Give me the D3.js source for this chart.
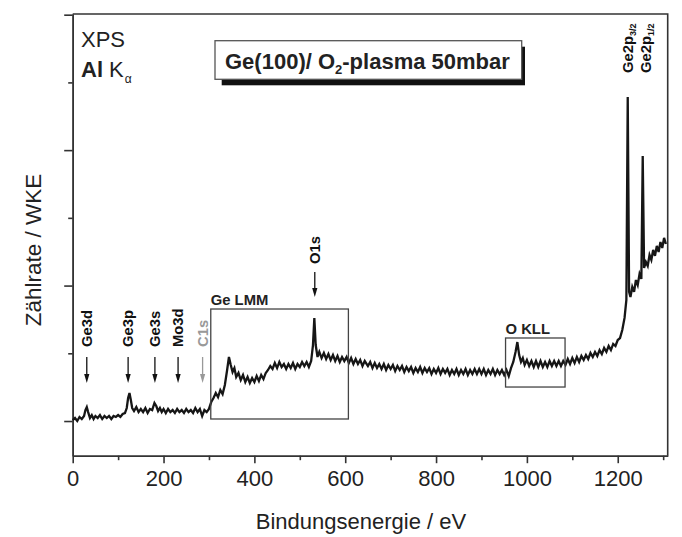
<!DOCTYPE html>
<html>
<head>
<meta charset="utf-8">
<script src="https://cdn.jsdelivr.net/npm/d3@7"></script>
<style>
  body { margin: 0; background: #fff; }
  svg { display: block; font-family: "Liberation Sans", Arial, sans-serif; }
  .axis path, .axis line { stroke: #333; stroke-width: 1.6; }
  .axis text { font-size: 22px; fill: #222; font-family: "Liberation Sans", Arial, sans-serif; }
</style>
</head>
<body>
<svg width="682" height="537"></svg>
<script>
// binding energy (eV) and counts (arb. units, 100 per major y tick)
const energy = [
  0, 5, 10, 15, 20, 25, 28, 31, 34, 38, 42, 46, 50, 55, 60, 65, 70, 75, 80, 85,
  90, 95, 100, 105, 110, 115, 119, 122, 125, 128, 131, 135, 140, 145, 150, 155, 160, 165, 170, 175,
  180, 184, 188, 192, 196, 200, 205, 210, 215, 220, 225, 230, 235, 240, 245, 250, 255, 260, 265, 270,
  275, 280, 285, 290, 295, 300, 305, 310, 315, 320, 325, 330, 335, 340, 344, 348, 352, 356, 360, 365,
  370, 375, 380, 385, 390, 395, 400, 405, 410, 415, 420, 425, 430, 435, 440, 445, 450, 455, 460, 465,
  470, 475, 480, 485, 490, 495, 500, 505, 510, 515, 520, 525, 529, 532, 535, 539, 543, 548, 553, 558,
  563, 568, 573, 578, 583, 588, 593, 598, 603, 608, 613, 618, 623, 628, 633, 638, 643, 650, 655, 660,
  665, 670, 675, 680, 685, 690, 695, 700, 705, 710, 715, 720, 725, 730, 735, 740, 745, 750, 755, 760,
  765, 770, 775, 780, 785, 790, 795, 800, 805, 810, 815, 820, 825, 830, 835, 840, 845, 850, 855, 860,
  865, 870, 875, 880, 885, 890, 895, 900, 905, 910, 915, 920, 925, 930, 935, 940, 945, 950, 955, 960,
  965, 970, 975, 979, 983, 987, 991, 995, 1000, 1005, 1010, 1015, 1020, 1025, 1030, 1035, 1040, 1045, 1050, 1055,
  1060, 1065, 1070, 1075, 1080, 1085, 1090, 1095, 1100, 1105, 1110, 1115, 1120, 1125, 1130, 1135, 1140, 1145, 1150, 1155,
  1160, 1165, 1170, 1175, 1180, 1185, 1190, 1195, 1200, 1205, 1210, 1215, 1219, 1222, 1225, 1228, 1232, 1236, 1240, 1244,
  1248, 1252, 1255, 1258, 1262, 1266, 1270, 1274, 1278, 1282, 1286, 1290, 1294, 1298, 1302, 1306
];
const counts = [
  0.7, 2.2, 0, 3.0, 1.5, 3.7, 8.1, 10.3, 6.6, 2.2, 4.4, 1.5, 3.7, 2.2, 4.4, 1.5, 3.7, 2.2, 3.7, 1.5,
  3.7, 3.0, 4.4, 3.0, 5.2, 5.9, 9.6, 17.0, 20.7, 15.5, 9.6, 7.4, 10.3, 6.6, 8.9, 6.6, 9.6, 5.9, 8.9, 8.1,
  13.3, 11.1, 7.4, 9.6, 6.6, 8.9, 5.9, 8.9, 6.6, 8.1, 5.9, 8.9, 6.6, 8.1, 5.9, 8.9, 6.6, 8.1, 5.9, 9.6,
  6.6, 8.9, 3.7, 8.1, 6.6, 8.9, 14.0, 17.0, 20.7, 17.7, 22.9, 19.9, 26.6, 37.7, 47.3, 41.4, 36.2, 39.1, 32.5, 35.5,
  30.3, 34.0, 28.8, 32.5, 28.1, 31.8, 28.8, 33.2, 29.5, 34.0, 31.0, 35.5, 37.7, 40.6, 38.4, 42.8, 39.1, 43.6, 39.9, 42.1,
  38.4, 42.1, 39.1, 42.8, 38.4, 42.1, 39.9, 43.6, 40.6, 43.6, 39.9, 44.3, 56.1, 76.1, 56.1, 47.3, 51.0, 46.5, 50.2, 45.8,
  49.5, 45.1, 48.7, 44.3, 48.0, 43.6, 47.3, 44.3, 47.3, 42.8, 46.5, 42.1, 45.8, 42.1, 45.1, 40.6, 44.3, 40.6, 43.6, 39.1,
  42.8, 39.1, 42.1, 38.4, 42.1, 37.7, 41.4, 38.4, 41.4, 36.9, 40.6, 37.7, 40.6, 36.2, 39.9, 36.9, 39.9, 35.5, 39.1, 36.2,
  39.9, 35.5, 39.1, 36.2, 39.1, 34.7, 38.4, 35.5, 39.1, 34.7, 38.4, 35.5, 38.4, 34.0, 37.7, 34.7, 38.4, 34.0, 37.7, 34.7,
  38.4, 34.0, 37.7, 34.7, 38.4, 34.7, 38.4, 34.7, 38.4, 34.0, 37.7, 34.7, 38.4, 34.0, 37.7, 34.7, 37.7, 34.0, 37.7, 33.2,
  39.1, 43.6, 51.0, 58.3, 48.7, 43.6, 46.5, 41.4, 45.1, 40.6, 44.3, 39.9, 44.3, 39.9, 44.3, 39.9, 43.6, 39.9, 44.3, 40.6,
  44.3, 40.6, 44.3, 40.6, 44.3, 41.4, 45.8, 42.1, 46.5, 42.8, 47.3, 43.6, 48.0, 45.1, 48.7, 45.8, 50.2, 47.3, 51.0, 48.0,
  52.4, 49.5, 53.9, 51.0, 55.4, 52.4, 56.9, 55.4, 59.8, 61.3, 67.2, 76.1, 89.4, 239.3, 95.3, 91.6, 99.0, 95.3, 104.1, 100.4,
  108.6, 104.9, 195.7, 113.0, 117.4, 114.5, 122.6, 118.9, 126.3, 121.9, 129.3, 124.8, 132.2, 127.8, 135.2, 130.7
];

// peak markers with arrows
const peakNames = ["Ge3d", "Ge3p", "Ge3s", "Mo3d", "C1s"];
const peakEnergy = [31, 122, 181, 232, 286];
const peakColor = ["#111", "#111", "#111", "#111", "#999"];

// marked regions: energy range and count range
const regionNames = ["Ge LMM", "O KLL"];
const regionE = [[304, 607], [953, 1084]];
const regionC = [[1.5, 82.7], [25.1, 61.3]];

const xMajor = [0, 200, 400, 600, 800, 1000, 1200];
const xMinor = [100, 300, 500, 700, 900, 1100, 1300];
const yMajor = [0, 100, 200, 300];
const yMinor = [50, 150, 250];

let svg = d3.select("svg");
let margin = { top: 14, right: 14.3, bottom: 81.3, left: 72.7 };
let W = 682, H = 537;

let x = d3.scaleLinear().domain([0, 1310]).range([margin.left, W - margin.right]);
let y = d3.scaleLinear().domain([-25.6, 300.5]).range([H - margin.bottom, margin.top]);

// frame (top and right)
svg.append("path")
  .attr("d", `M${x(0)},${y.range()[1]}H${x.range()[1]}V${y.range()[0]}`)
  .attr("fill", "none")
  .attr("stroke", "#333")
  .attr("stroke-width", 1.6);

// x axis
svg.append("g").attr("class", "axis")
  .attr("transform", `translate(0,${y.range()[0]})`)
  .call(d3.axisBottom(x).tickValues(xMajor).tickFormat(d3.format("d"))
    .tickSize(7.5).tickPadding(7).tickSizeOuter(0));
svg.append("g").attr("class", "axis")
  .attr("transform", `translate(0,${y.range()[0]})`)
  .call(d3.axisBottom(x).tickValues(xMinor).tickSize(4.5).tickFormat("").tickSizeOuter(0));

// y axis (no labels)
svg.append("g").attr("class", "axis")
  .attr("transform", `translate(${x(0)},0)`)
  .call(d3.axisLeft(y).tickValues(yMajor).tickSize(8.5).tickFormat("").tickSizeOuter(0));
svg.append("g").attr("class", "axis")
  .attr("transform", `translate(${x(0)},0)`)
  .call(d3.axisLeft(y).tickValues(yMinor).tickSize(4.5).tickFormat("").tickSizeOuter(0));

// axis titles
svg.append("text")
  .attr("x", 361).attr("y", 529)
  .attr("text-anchor", "middle")
  .attr("font-size", "22px").attr("fill", "#222")
  .text("Bindungsenergie / eV");

svg.append("text")
  .attr("transform", "translate(41,250) rotate(-90)")
  .attr("text-anchor", "middle")
  .attr("font-size", "22.5px").attr("fill", "#222")
  .text("Zählrate / WKE");

// spectrum
let pts = energy.map((e, i) => [e, counts[i]]);
svg.append("path")
  .datum(pts)
  .attr("fill", "none")
  .attr("stroke", "#161616")
  .attr("stroke-width", 2.3)
  .attr("stroke-linejoin", "miter")
  .attr("d", d3.line().x(d => x(d[0])).y(d => y(d[1])));

// region boxes
regionNames.forEach((name, i) => {
  let x0 = x(regionE[i][0]), x1 = x(regionE[i][1]);
  let y0 = y(regionC[i][1]), y1 = y(regionC[i][0]);
  svg.append("rect")
    .attr("x", x0).attr("y", y0)
    .attr("width", x1 - x0).attr("height", y1 - y0)
    .attr("fill", "none").attr("stroke", "#444").attr("stroke-width", 1.3);
  svg.append("text")
    .attr("x", x0).attr("y", y0 - 4)
    .attr("font-size", "14.8px").attr("font-weight", "bold").attr("fill", "#222")
    .text(name);
});

// arrow helper
function arrow(px, yTop, yTip, color) {
  svg.append("line")
    .attr("x1", px).attr("x2", px)
    .attr("y1", yTop).attr("y2", yTip - 8)
    .attr("stroke", color).attr("stroke-width", 1.3);
  svg.append("path")
    .attr("d", `M${px - 2.6},${yTip - 9}L${px + 2.6},${yTip - 9}L${px},${yTip}Z`)
    .attr("fill", color);
}

function vLabel(px, yBottom, txt, color, size) {
  return svg.append("text")
    .attr("transform", `translate(${px + size * 0.36},${yBottom}) rotate(-90)`)
    .attr("font-size", size + "px").attr("font-weight", "bold").attr("fill", color)
    .text(txt);
}

peakNames.forEach((name, i) => {
  let px = x(peakEnergy[i]);
  arrow(px, 357, 383, peakColor[i]);
  vLabel(px, 347, name, peakColor[i], 14.8);
});

// O1s
arrow(x(533), 272, 297, "#111");
vLabel(x(533), 264, "O1s", "#111", 14.8);

// Ge2p labels
const ge2pNames = [["Ge2p", "3/2"], ["Ge2p", "1/2"]];
const ge2pEnergy = [1222, 1262];
ge2pNames.forEach((n, i) => {
  let t = vLabel(x(ge2pEnergy[i]), 73, n[0], "#111", 14.8);
  t.append("tspan").attr("font-size", "9px").attr("dy", 3).text(n[1]);
});

// XPS / Al K alpha
svg.append("text").attr("x", 81).attr("y", 46.5)
  .attr("font-size", "22px").attr("fill", "#222").text("XPS");
let al = svg.append("text").attr("x", 81).attr("y", 76.5)
  .attr("font-size", "22px").attr("fill", "#222");
al.append("tspan").attr("font-weight", "bold").text("Al");
al.append("tspan").text(" K");
al.append("tspan").attr("font-size", "12px").attr("dy", 6).attr("dx", 1).text("α");

// title box with shadow
svg.append("rect")
  .attr("x", 221.7).attr("y", 46.7).attr("width", 303.3).attr("height", 38.6)
  .attr("fill", "#111");
svg.append("rect")
  .attr("x", 215).attr("y", 40.7).attr("width", 306.7).attr("height", 38.6)
  .attr("fill", "#fff").attr("stroke", "#555").attr("stroke-width", 1.3);
let title = svg.append("text").attr("x", 225).attr("y", 69.3)
  .attr("font-size", "22px").attr("font-weight", "bold").attr("fill", "#222");
title.append("tspan").text("Ge(100)/ O");
title.append("tspan").attr("font-size", "13px").attr("dy", 5).text("2");
title.append("tspan").attr("dy", -5).text("-plasma 50mbar");
</script>
</body>
</html>
